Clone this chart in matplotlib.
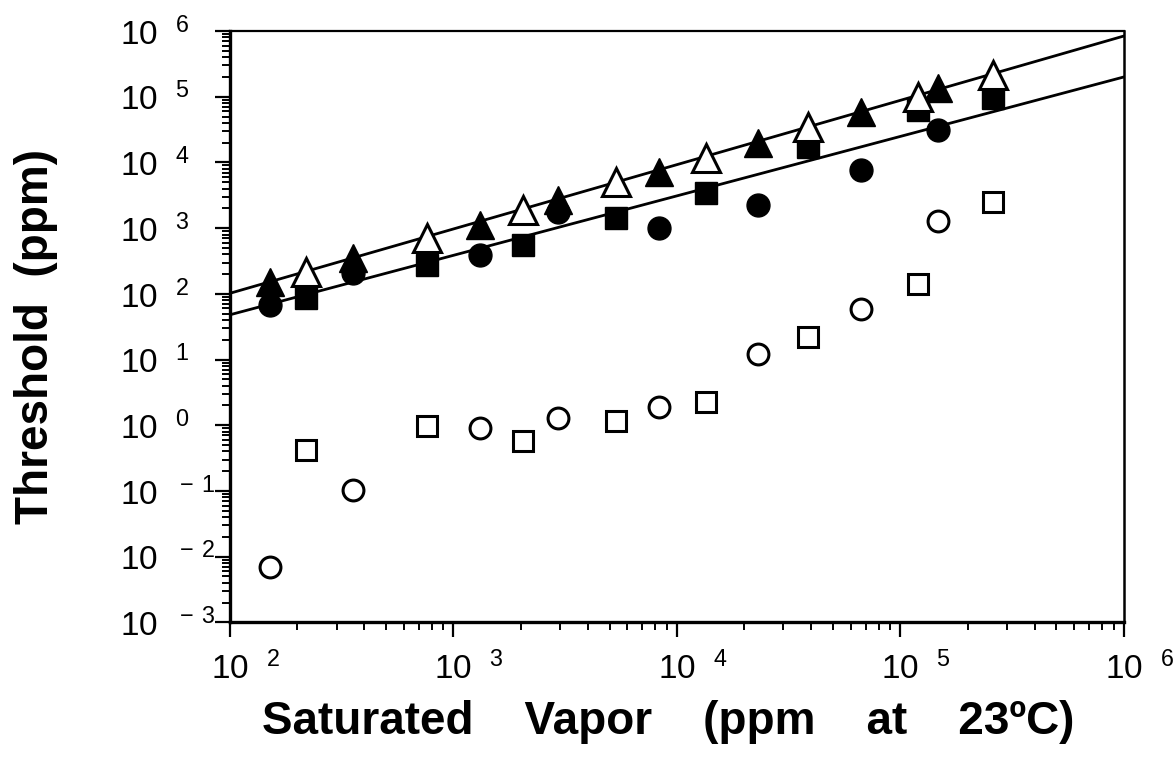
import math
import matplotlib
matplotlib.use("Agg")
import matplotlib.pyplot as plt
import matplotlib.transforms as mtransforms
from matplotlib.ticker import LogLocator, NullFormatter

plt.rcParams['font.family'] = ['Liberation Sans', 'DejaVu Sans']
plt.rcParams['mathtext.fontset'] = 'custom'
plt.rcParams['mathtext.rm'] = 'Liberation Sans'

# saturated vapor (ppm) for the two sets of compounds
vapor_a = [151, 355, 1314, 2937, 8300, 23030, 66530, 147200]
vapor_b = [219, 761, 2047, 5333, 13490, 38550, 119700, 259600]

# thresholds (ppm)
filled_tri = [151, 351, 1114, 2677, 7280, 19720, 58450, 135600]
filled_circ = [68, 207, 390, 1760, 1005, 2250, 7650, 31100]
open_circ = [0.0070, 0.103, 0.906, 1.29, 1.89, 12.1, 58.8, 1282]
open_tri = [215, 707, 1884, 5030, 11670, 34600, 98900, 213800]
filled_sq = [86, 274, 553, 1425, 3420, 17140, 62800, 95600]
open_sq = [0.42, 0.97, 0.574, 1.16, 2.25, 22, 141, 2497]

# fitted lines
line_x = [1e2, 1e6]
upper_fit = [102, 8.4e5]
lower_fit = [48, 2.0e5]

# axis decades
x_ticks = [1e2, 1e3, 1e4, 1e5, 1e6]
y_ticks = [1e-3, 1e-2, 1e-1, 1e0, 1e1, 1e2, 1e3, 1e4, 1e5, 1e6]

fig = plt.figure(figsize=(11.73, 7.58), dpi=100)
ax = fig.add_axes([0.196, 0.179, 0.762, 0.780])

ax.plot(line_x, upper_fit, "k-", lw=2.0, zorder=1)
ax.plot(line_x, lower_fit, "k-", lw=2.0, zorder=1)

ax.plot(vapor_b, filled_sq, "ks", ms=16, ls="none", zorder=3)
ax.plot(vapor_a, filled_circ, "ko", ms=16.5, ls="none", zorder=3)
ax.plot(vapor_a, filled_tri, "k^", ms=20, ls="none", zorder=4)
ax.plot(vapor_b, open_tri, "^", ms=20, mfc="white", mec="black", mew=2.2, ls="none", zorder=4)
ax.plot(vapor_a, open_circ, "o", ms=15, mfc="white", mec="black", mew=2.2, ls="none", zorder=3)
ax.plot(vapor_b, open_sq, "s", ms=15, mfc="white", mec="black", mew=2.2, ls="none", zorder=3)

ax.set_xscale("log")
ax.set_yscale("log")
ax.set_xlim(1e2, 1e6)
ax.set_ylim(1e-3, 1e6)


def pow_label(v):
    e = int(round(math.log10(v)))
    if e < 0:
        return r"$\mathregular{10^{\enspace\;-\,%d}}$" % (-e)
    return r"$\mathregular{10^{\enspace\;%d}}$" % e


ax.set_xticks(x_ticks)
ax.set_yticks(y_ticks)
ax.set_xticklabels([pow_label(v) for v in x_ticks], ha="left")
ax.set_yticklabels([pow_label(v) for v in y_ticks], ha="left")
ax.xaxis.set_minor_locator(LogLocator(base=10, subs=range(2, 10), numticks=20))
ax.yaxis.set_minor_locator(LogLocator(base=10, subs=range(2, 10), numticks=20))
ax.xaxis.set_minor_formatter(NullFormatter())
ax.yaxis.set_minor_formatter(NullFormatter())

ax.tick_params(which="major", direction="out", length=11, width=1.6, labelsize=24)
ax.tick_params(axis="x", which="major", pad=10)
ax.tick_params(axis="y", which="major", pad=68)
ax.tick_params(which="minor", direction="out", length=6, width=1.4)
ax.tick_params(top=False, right=False)

# centre the "10" of each x label on its tick
shift = mtransforms.ScaledTranslation(-19 / 100, 0, fig.dpi_scale_trans)
for lab in ax.get_xticklabels():
    lab.set_transform(lab.get_transform() + shift)

ax.spines["left"].set_linewidth(2.4)
ax.spines["bottom"].set_linewidth(2.4)
ax.spines["top"].set_linewidth(1.6)
ax.spines["right"].set_linewidth(1.8)

ax.set_xlabel("Saturated    Vapor    (ppm    at    23\u00baC)", fontsize=33, fontweight="bold")
ax.set_ylabel("Threshold  (ppm)", fontsize=33, fontweight="bold")
ax.xaxis.set_label_coords(0.49, -0.131)
ax.yaxis.set_label_coords(-0.192, 0.484)

fig.savefig("out.png", dpi=100)
